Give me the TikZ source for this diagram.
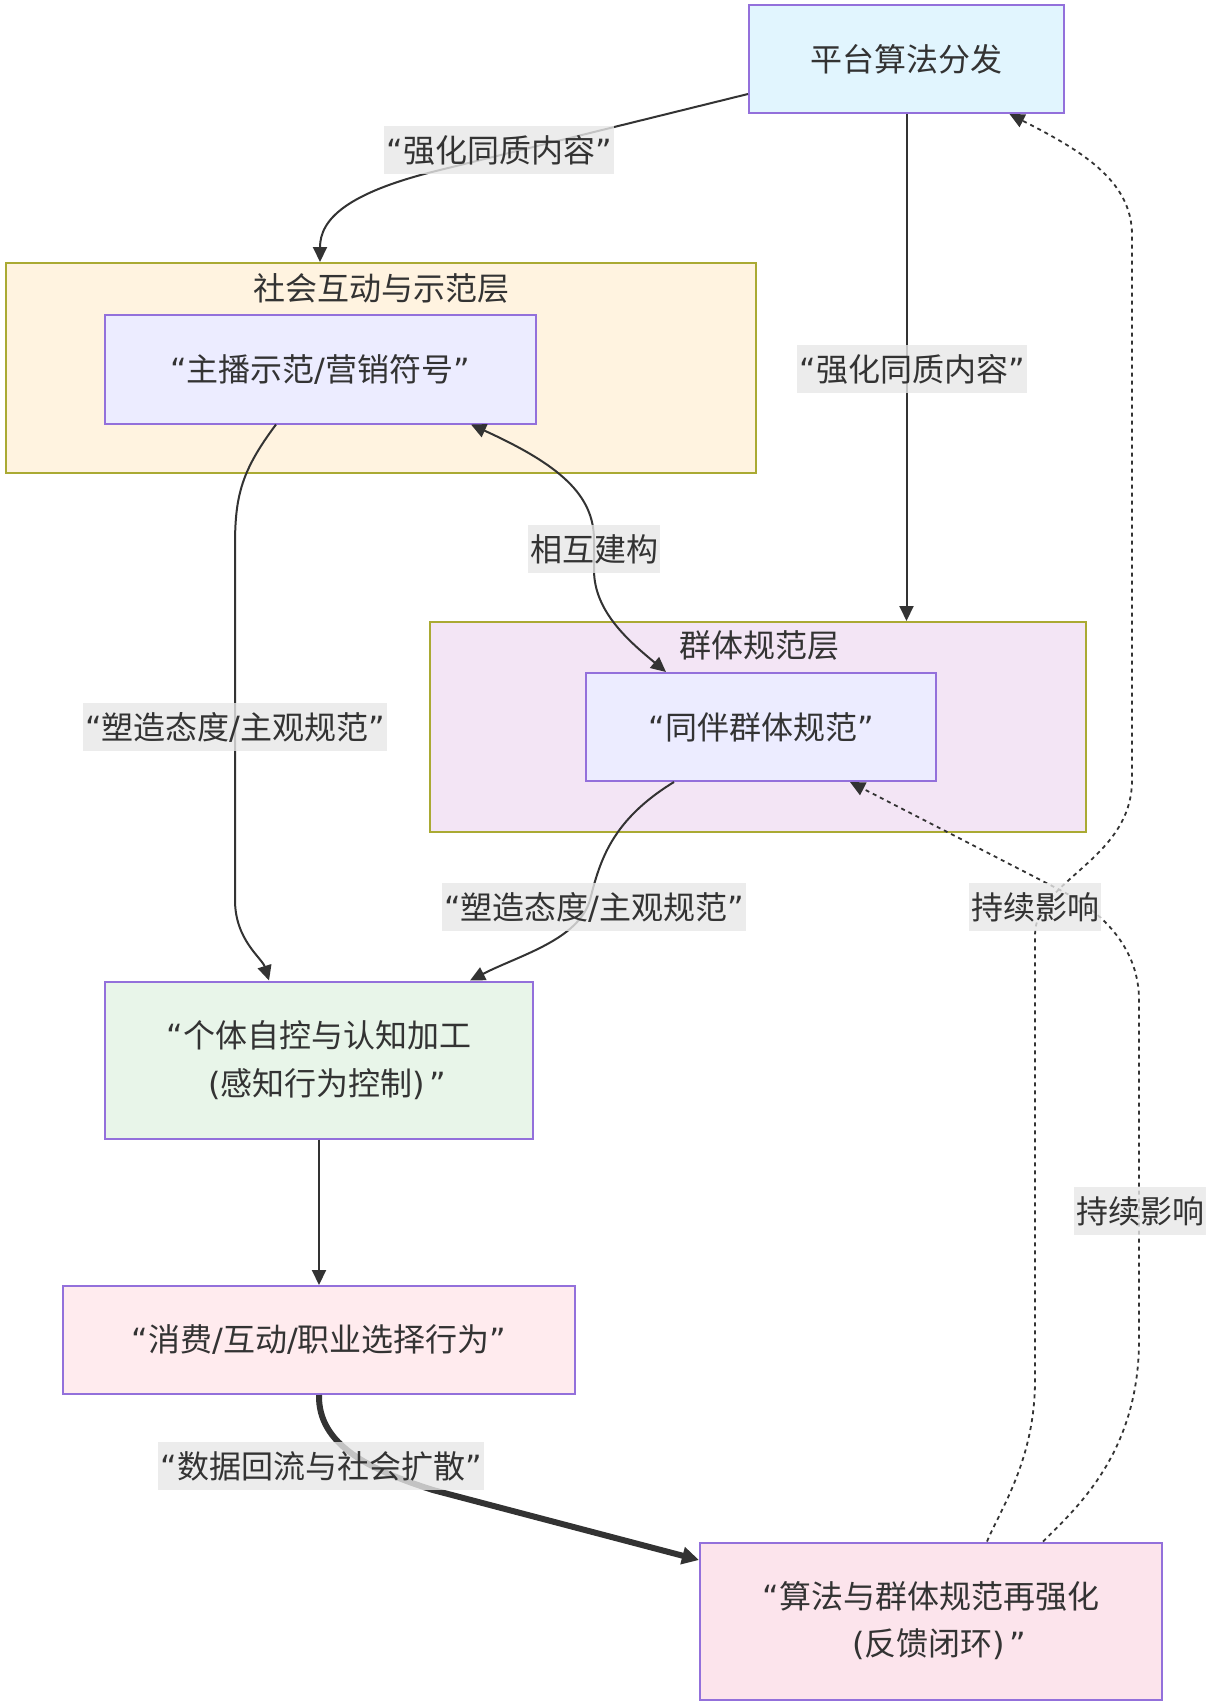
\documentclass[tikz,border=0pt]{standalone}
\usepackage{fontspec}
\setmainfont{Noto Sans CJK SC}
\newfontfamily\latf{DejaVu Sans}
\newcommand\myoq{{\latf “}}
\newcommand\mycq{{\latf ”}}
\newcommand\myslash{{\latf /}}
\newcommand\mylp{{\latf (}}
\newcommand\myrp{{\latf )}}
\usetikzlibrary{arrows.meta,calc}
\definecolor{txt}{HTML}{333333}
\definecolor{edge}{HTML}{333333}
\definecolor{nstroke}{HTML}{9370DB}
\definecolor{cstroke}{HTML}{AAAA33}
\definecolor{topfill}{HTML}{E1F5FE}
\definecolor{cAfill}{HTML}{FFF3E0}
\definecolor{cBfill}{HTML}{F3E5F5}
\definecolor{innerfill}{HTML}{ECECFF}
\definecolor{gtfill}{HTML}{E8F5E9}
\definecolor{xffill}{HTML}{FFEBEE}
\definecolor{sffill}{HTML}{FCE4EC}
\definecolor{lblbg}{HTML}{E8E8E8}
\begin{document}
\begin{tikzpicture}[x=1pt,y=-1pt,
  every node/.style={text=txt, font=\fontsize{32pt}{48pt}\selectfont},
  cluster/.style={draw=cstroke, line width=2pt, inner sep=0pt},
  box/.style={draw=nstroke, line width=2pt, inner sep=0pt, align=center},
  ctitle/.style={inner sep=0pt},
  elabel/.style={fill=lblbg, fill opacity=0.8, text opacity=1, inner xsep=2pt, inner ysep=0pt, minimum height=48pt},
  link/.style={draw=edge, line width=2pt},
  arr/.style={-{Triangle[length=15pt,width=14pt]}},
  dotlink/.style={draw=edge, line width=1.8pt, dash pattern=on 4pt off 4pt},
  thicklink/.style={draw=edge, line width=6pt, -{Triangle[length=17pt,width=17pt]}}
]
\useasboundingbox (0,0) rectangle (1205,1707);
\fill[white] (0,0) rectangle (1205,1707);

% clusters
\node[cluster, fill=cAfill, minimum width=750pt, minimum height=210pt] (c1) at (381,368) {};
\node[cluster, fill=cBfill, minimum width=656pt, minimum height=210pt] (c2) at (758,727) {};
\node[ctitle] (t1) at (381,288) {社会互动与示范层};
\node[ctitle] (t2) at (759,645) {群体规范层};

% nodes
\node[box, fill=topfill, minimum width=315pt, minimum height=108pt] (top) at (906.5,59) {平台算法分发};
\node[box, fill=innerfill, minimum width=431pt, minimum height=109pt] (zb) at (320,369) {\myoq 主播示范\myslash 营销符号\mycq};
\node[box, fill=innerfill, minimum width=350pt, minimum height=108pt] (tb) at (761,727) {\myoq 同伴群体规范\mycq};
\node[box, fill=gtfill, minimum width=428pt, minimum height=157pt] (gt) at (319,1060) {\myoq 个体自控与认知加工\\\hspace*{16pt}\mylp 感知行为控制\myrp\hspace{4pt}\mycq};
\node[box, fill=xffill, minimum width=512pt, minimum height=108pt] (xf) at (319,1340) {\myoq 消费\myslash 互动\myslash 职业选择行为\mycq};
\node[box, fill=sffill, minimum width=462pt, minimum height=157pt, font=\fontsize{32pt}{47pt}\selectfont] (sf) at (931,1621) {\myoq 算法与群体规范再强化\\\hspace*{16pt}\mylp 反馈闭环\myrp\hspace{4pt}\mycq};

% edges
\draw[link, arr] ([yshift=-35pt]top.west) -- (440,170) .. controls (345,193) and (320,220) .. (zb.north |- c1.north);
\draw[link, arr] (top.south) -- (top.south |- c2.north);
\draw[link, arr] ([xshift=-44pt]zb.south) .. controls (242,470) and (235,495) .. (235,545) -- (235,900) .. controls (235,940) and (262,958) .. ([xshift=-50pt]gt.north);
\draw[link, {Triangle[length=15pt,width=14pt]}-{Triangle[length=15pt,width=14pt]}] ([xshift=151pt]zb.south) .. controls (560,465) and (594,495) .. (594,540) -- (594,570) .. controls (594,612) and (630,642) .. ([xshift=-95pt]tb.north);
\draw[link, arr] ([xshift=-87pt]tb.south) .. controls (612,820) and (600,860) .. (590,900) .. controls (578,940) and (520,955) .. ([xshift=151pt]gt.north);
\draw[link, arr] (gt.south) -- (xf.north);
\draw[thicklink] (xf.south) .. controls (318,1445) and (370,1470) .. (433,1490) -- ([yshift=61pt]sf.west);
\draw[dotlink, arr] ([xshift=56pt]sf.north) .. controls (1000,1510) and (1035,1460) .. (1035,1380) -- (1035,935) .. controls (1035,880) and (1132,860) .. (1132,780) -- (1132,235) .. controls (1132,180) and (1080,150) .. ([xshift=103pt]top.south);
\draw[dotlink, arr] ([xshift=112pt]sf.north) .. controls (1080,1505) and (1139,1450) .. (1139,1340) -- (1139,1000) .. controls (1139,950) and (1105,913) .. (1060,890) -- ([xshift=89pt]tb.south);

% edge labels
\node[elabel] (l1) at (499,150) {\myoq 强化同质内容\mycq};
\node[elabel] (l2) at (912,369) {\myoq 强化同质内容\mycq};
\node[elabel] (l3) at (594,549) {相互建构};
\node[elabel] (l4) at (235,727) {\myoq 塑造态度\myslash 主观规范\mycq};
\node[elabel] (l5) at (594,907) {\myoq 塑造态度\myslash 主观规范\mycq};
\node[elabel] (l6) at (1035,907) {持续影响};
\node[elabel] (l7) at (1140,1211) {持续影响};
\node[elabel] (l8) at (321,1466) {\myoq 数据回流与社会扩散\mycq};
\end{tikzpicture}
\end{document}
